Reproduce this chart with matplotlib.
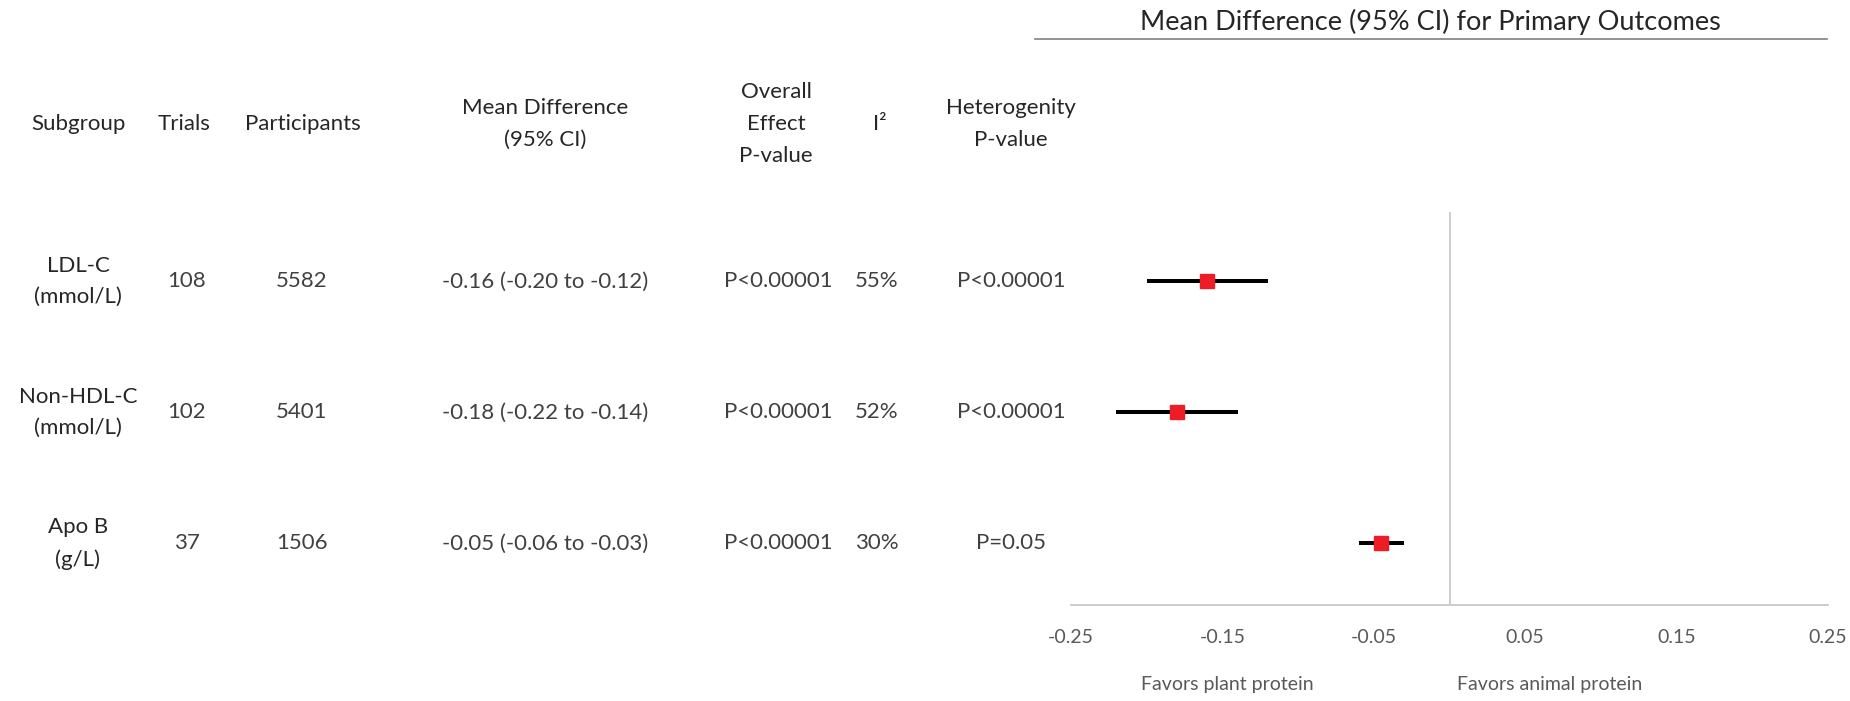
import matplotlib.pyplot as plt
import matplotlib.transforms as mtransforms

plt.rcParams['font.family'] = ['Lato', 'DejaVu Sans']

# table data
subgroups = ['LDL-C\n(mmol/L)', 'Non-HDL-C\n(mmol/L)', 'Apo B\n(g/L)']
trials = ['108', '102', '37']
participants = ['5582', '5401', '1506']
md_text = ['-0.16 (-0.20 to -0.12)', '-0.18 (-0.22 to -0.14)', '-0.05 (-0.06 to -0.03)']
p_overall = ['P<0.00001', 'P<0.00001', 'P<0.00001']
i2 = ['55%', '52%', '30%']
p_het = ['P<0.00001', 'P<0.00001', 'P=0.05']

# forest values
md = [-0.16, -0.18, -0.045]
ci_low = [-0.20, -0.22, -0.06]
ci_high = [-0.12, -0.14, -0.03]
xticks = [-0.25, -0.15, -0.05, 0.05, 0.15, 0.25]

W, H = 1850, 701
fig = plt.figure(figsize=(18.5, 7.01), dpi=100)
ax = fig.add_axes([1071 / W, 1 - 605 / H, 757 / W, 393 / H])
ax.set_xlim(-0.25, 0.25)
ax.set_ylim(0.03, 3.03)

rows = [2.5, 1.5, 0.5]
for y, m, lo, hi in zip(rows, md, ci_low, ci_high):
    ax.plot([lo, hi], [y, y], color='black', lw=2.9, solid_capstyle='butt', zorder=2)
    ax.plot(m, y, marker='s', ms=9.4, color='#ee1c25', mec='#ee1c25', zorder=3)

ax.axvline(0, color='#c8c8c8', lw=1.3, zorder=1)
for s in ['top', 'right', 'left']:
    ax.spines[s].set_visible(False)
ax.spines['bottom'].set_color('#c8c8c8')
ax.spines['bottom'].set_linewidth(1.3)
ax.set_yticks([])
ax.set_xticks(xticks)
ax.set_xticklabels([f'{t:.2f}' for t in xticks])
ax.tick_params(axis='x', length=0, pad=17, labelsize=14, labelcolor='#595959')

ax.text(-0.147, -0.58, 'Favors plant protein', ha='center', va='center', fontsize=14, color='#595959')
ax.text(0.066, -0.58, 'Favors animal protein', ha='center', va='center', fontsize=14, color='#595959')

# title with underline
fig.text(1430 / W, 1 - 22 / H, 'Mean Difference (95% CI) for Primary Outcomes',
         ha='center', va='center', fontsize=19.5, color='#262626')
fig.add_artist(plt.Line2D([1035 / W, 1827 / W], [1 - 39 / H, 1 - 39 / H],
                          color='#808080', lw=1.2))

# headers
hy = 1 - 124 / H
hdr_kw = dict(ha='center', va='center', fontsize=16, color='#262626', linespacing=1.75)
fig.text(78 / W, hy, 'Subgroup', **hdr_kw)
fig.text(184 / W, hy, 'Trials', **hdr_kw)
fig.text(303 / W, hy, 'Participants', **hdr_kw)
fig.text(545 / W, hy, 'Mean Difference\n(95% CI)', **hdr_kw)
fig.text(776 / W, hy, 'Overall\nEffect\nP-value', **hdr_kw)
fig.text(880 / W, hy, 'I²', **hdr_kw)
fig.text(1011 / W, hy, 'Heterogenity\nP-value', **hdr_kw)

# table rows, x in figure fraction, y in forest data coordinates
trans = mtransforms.blended_transform_factory(fig.transFigure, ax.transData)
cols = [(78, subgroups, '#262626'), (187, trials, '#404040'), (302, participants, '#404040'),
        (545, md_text, '#404040'), (778, p_overall, '#404040'), (877, i2, '#404040'),
        (1011, p_het, '#404040')]
for x, vals, c in cols:
    for y, v in zip(rows, vals):
        ax.text(x / W, y, v, transform=trans, ha='center', va='center', fontsize=16,
                color=c, linespacing=1.7, clip_on=False)

fig.savefig('out.png', dpi=100)
